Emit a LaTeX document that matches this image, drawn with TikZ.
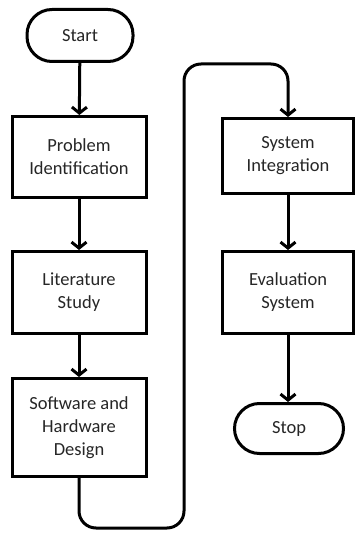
\documentclass[tikz,border=0pt]{standalone}
\usepackage{fontspec}
\setmainfont{Carlito}
\usetikzlibrary{arrows.meta}
\begin{document}
\begin{tikzpicture}[x=1pt,y=-1pt,
  every node/.style={font=\fontsize{18.5}{23}\selectfont, text=black!85, align=center, line width=3pt, inner sep=0pt},
  procbox/.style={draw=black, rectangle, minimum width=134pt},
  termbox/.style={draw=black, rectangle, rounded corners=25pt},
  flow/.style={line width=3pt, -{Straight Barb[length=6pt,width=15pt,line width=3pt]}}
]
\useasboundingbox (0,0) rectangle (356,534);
\node[termbox, minimum width=106pt, minimum height=52pt] (start) at (80,35.5) {Start};
\node[procbox, minimum height=81pt] (prob) at (79,157) {Problem\\Identification};
\node[procbox, minimum height=82pt] (lit) at (79,292.5) {Literature\\Study};
\node[procbox, minimum height=98pt] (soft) at (79,427.5) {Software and\\Hardware\\Design};
\node[procbox, minimum width=131pt, minimum height=75pt] (sys) at (288,156) {System\\Integration};
\node[procbox, minimum width=131pt, minimum height=82pt] (eval) at (288,292.5) {Evaluation\\System};
\node[termbox, minimum width=109pt, minimum height=50pt] (stop) at (289,428.5) {Stop};
\draw[flow] (start) -- (prob);
\draw[flow] (prob) -- (lit);
\draw[flow] (lit) -- (soft);
\draw[flow, rounded corners=17pt] (soft.south) -- (79,528) -- (184,528) -- (184,64) -- (288,64) -- (sys.north);
\draw[flow] (sys) -- (eval);
\draw[flow] (eval.south) -- (eval.south |- stop.north);
\end{tikzpicture}
\end{document}
